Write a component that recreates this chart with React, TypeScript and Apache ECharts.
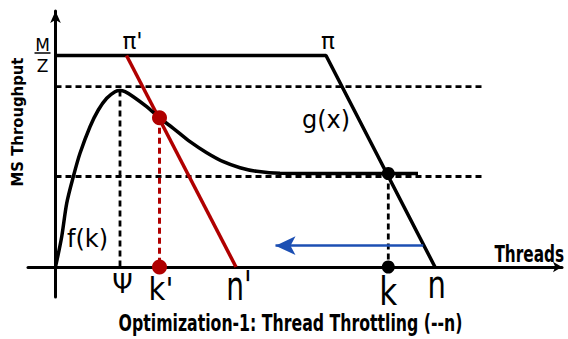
import React, { useEffect, useRef } from "react";
import * as echarts from "echarts";

// Axis ranges (arbitrary units: threads on x, MS throughput on y)
const xRange = [-27.5, 506.5];
const yRange = [-30, 256];

// Key levels / positions
const capacityLevel = 211.5; // M/Z
const saturationStart = 270.5; // π
const originalThreads = 379.5; // n
const throttledStart = 71; // π'
const throttledThreads = 180.5; // n'
const upperGuide = 180.3;
const lowerGuide = 90.5;
const guideEnd = 427.5;
const psiThreads = 64.5;
const psiThroughput = 176.5;
const kPrimeThreads = 104;
const kPrimeThroughput = 149.3;
const kThreads = 332.8;
const kThroughput = 93.5;
const arrowLevel = 21.3;
const arrowFrom = 367.8;
const arrowTo = 220;

// f(k) curve
const curveThreads = [0, 6.2, 11.2, 17.8, 24.5, 34.5, 42.8, 51.2, 59.5, 64.5, 69.5, 77.8, 91.2, 103.8, 117.8, 134.5, 151.2, 167.8, 184.5, 201.2, 224.5, 274.5, 362.5];
const curveThroughput = [0, 30.3, 63.7, 90.3, 113.7, 140.3, 157, 168.7, 175.3, 176.5, 175.3, 170.3, 160.3, 149.3, 138.7, 125.3, 114.3, 105.3, 99.3, 95.7, 93.7, 93.5, 93.5];

const RED = "#b00000";
const BLUE = "#1c4fb3";
const BOLD_FONT = '"DejaVu Sans Condensed", "DejaVu Sans", sans-serif';
const FONT = '"DejaVu Sans", sans-serif';

export default function App() {
  const ref = useRef<HTMLDivElement>(null);
  useEffect(() => {
    document.body.style.margin = "0";
    const chart = echarts.init(ref.current!, null, { renderer: "svg" });
    const dashed = (color: string, w = 2.8) => ({ color, width: w, type: [6, 4] as any });
    const lineSeries = (data: number[][], lineStyle: any, z = 2) => ({
      type: "line",
      data,
      symbol: "none",
      lineStyle,
      silent: true,
      z,
    });
    chart.setOption({
      animation: false,
      grid: { left: 28, right: 6, top: 11, bottom: 42 },
      xAxis: {
        type: "value",
        min: xRange[0],
        max: xRange[1],
        axisLine: { show: true, lineStyle: { color: "#000", width: 3 }, symbol: ["none", "arrow"], symbolSize: [8, 9] },
        axisTick: { show: false },
        axisLabel: { show: false },
        splitLine: { show: false },
      },
      yAxis: {
        type: "value",
        min: yRange[0],
        max: yRange[1],
        axisLine: { show: true, lineStyle: { color: "#000", width: 3 }, symbol: ["none", "arrow"], symbolSize: [8, 12] },
        axisTick: { show: false },
        axisLabel: { show: false },
        splitLine: { show: false },
      },
      series: [
        lineSeries([[0, upperGuide], [guideEnd, upperGuide]], dashed("#000")),
        lineSeries([[0, lowerGuide], [guideEnd, lowerGuide]], dashed("#000")),
        lineSeries([[psiThreads, psiThroughput], [psiThreads, 0]], dashed("#000")),
        lineSeries([[kThreads, kThroughput], [kThreads, 0]], dashed("#000")),
        lineSeries([[kPrimeThreads, kPrimeThroughput], [kPrimeThreads, 0]], dashed(RED, 3)),
        lineSeries(
          [[0, capacityLevel], [saturationStart, capacityLevel], [originalThreads, 0]],
          { color: "#000", width: 3.5 },
          3
        ),
        lineSeries([[throttledStart, capacityLevel], [throttledThreads, 0]], { color: RED, width: 3.5 }, 3),
        {
          type: "line",
          data: curveThreads.map((x, i) => [x, curveThroughput[i]]),
          symbol: "none",
          smooth: 0.3,
          lineStyle: { color: "#000", width: 3.5 },
          silent: true,
          z: 3,
        },
        {
          type: "line",
          data: [],
          silent: true,
          markLine: {
            silent: true,
            symbol: ["none", "arrow"],
            symbolSize: [14, 20],
            label: { show: false },
            lineStyle: { color: BLUE, width: 2.5, type: "solid" },
            data: [[{ coord: [arrowFrom, arrowLevel] }, { coord: [arrowTo, arrowLevel] }]],
          },
        },
        {
          type: "scatter",
          data: [[kPrimeThreads, kPrimeThroughput], [kPrimeThreads, 0]],
          symbolSize: 15,
          itemStyle: { color: RED, opacity: 1 },
          silent: true,
          z: 5,
        },
        {
          type: "scatter",
          data: [[kThreads, kThroughput], [kThreads, 0]],
          symbolSize: 13,
          itemStyle: { color: "#000", opacity: 1 },
          silent: true,
          z: 5,
        },
      ],
    });

    const px = (x: number, y: number) => chart.convertToPixel({ gridIndex: 0 }, [x, y]) as number[];
    // text placed with its baseline at (x, y)
    const label = (
      text: string,
      at: number[],
      dx: number,
      dy: number,
      size: number,
      opts: any = {}
    ) => ({
      type: "text",
      x: at[0] + dx,
      y: at[1] + dy,
      scaleX: opts.scaleX ?? 1,
      scaleY: opts.scaleY ?? 1,
      rotation: opts.rotation ?? 0,
      silent: true,
      z: 10,
      style: {
        text,
        x: 0,
        y: -0.346 * size,
        fontSize: size,
        fontFamily: opts.bold ? BOLD_FONT : FONT,
        fontWeight: opts.bold ? "bold" : "normal",
        fill: "#000",
        align: opts.align ?? "center",
        verticalAlign: "middle",
      },
    });

    const origin = px(0, 0);
    const mz = px(0, capacityLevel);
    const piP = px(throttledStart, capacityLevel);
    const pi = px(saturationStart, capacityLevel);
    const xEnd = px(xRange[1], 0);
    chart.setOption({
      graphic: [
        label("M", mz, -13, -4.5, 17),
        {
          type: "line",
          silent: true,
          shape: { x1: mz[0] - 21, y1: mz[1] - 2.5, x2: mz[0] - 5, y2: mz[1] - 2.5 },
          style: { stroke: "#000", lineWidth: 1.5 },
        },
        label("Z", mz, -13, 16.5, 17),
        label("π'", piP, 6, -6.5, 23),
        label("π", pi, 2, -6.5, 23),
        label("g(x)", pi, 0, 72.5, 24),
        label("f(k)", origin, 32, -20, 24),
        label("Ψ", px(psiThreads, 0), 2.5, 25.5, 26),
        label("k'", px(kPrimeThreads, 0), 1.5, 33, 29, { scaleY: 1.12 }),
        label("n'", px(throttledThreads, 0), 3, 33, 28, { scaleY: 1.45 }),
        label("k", px(kThreads, 0), 0, 38, 31, { scaleY: 1.27 }),
        label("n", px(originalThreads, 0), 1.7, 31.3, 29, { scaleY: 1.37 }),
        label("Threads", xEnd, 2, -5, 17, { bold: true, align: "right", scaleY: 1.39 }),
        label("MS Throughput", [23, 122], 0, 0, 16.5, { bold: true, rotation: Math.PI / 2 }),
        label("Optimization-1: Thread Throttling (--n)", [290.5, 331.7], 0, 0, 17.5, { bold: true, scaleY: 1.35 }),
      ],
    });
    return () => chart.dispose();
  }, []);
  return <div ref={ref} style={{ width: 568, height: 339, position: "absolute", left: 0, top: 0 }} />;
}
